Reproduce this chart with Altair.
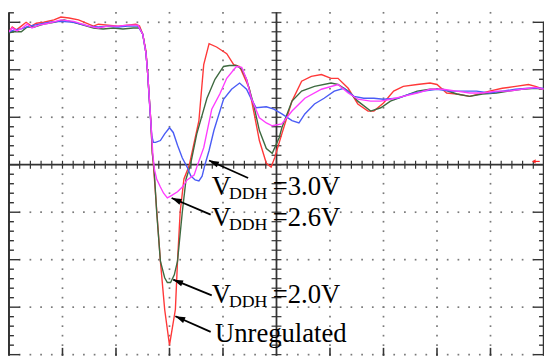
import altair as alt
import pandas as pd
import numpy as np

# ---- data: time and voltage, both in scope divisions ----
red_t = [-5.00,-4.94,-4.86,-4.77,-4.68,-4.58,-4.49,-4.35,-4.16,-4.03,-3.88,-3.70,-3.51,-3.42,-3.33,-3.15,-2.96,-2.78,-2.63,-2.56,
         -2.50,-2.44,-2.41,-2.35,-2.32,-2.30,-2.17,-2.09,-2.00,-1.89,-1.85,-1.80,-1.73,-1.63,-1.45,-1.36,-1.26,-1.12,-0.93,-0.80,
         -0.69,-0.51,-0.32,-0.19,-0.10,-0.03,0.10,0.29,0.47,0.65,0.84,1.02,1.15,1.34,1.52,1.71,1.82,2.00,2.19,2.37,2.63,2.87,3.00,
         3.18,3.37,3.61,3.79,3.98,4.22,4.47,4.71,4.84,4.99]
red_v = [2.80,2.90,2.84,2.92,3.00,2.92,2.98,3.00,3.05,3.11,3.09,3.05,2.96,2.92,2.96,2.94,2.92,2.94,2.96,2.92,
         2.75,2.40,1.96,0.93,0.24,-0.01,-2.03,-3.05,-3.80,-3.05,-2.03,-0.99,-0.30,-0.01,0.93,2.11,2.55,2.48,2.34,2.11,
         2.07,1.61,0.51,0.03,-0.05,0.16,0.65,1.34,1.76,1.86,1.90,1.82,1.82,1.61,1.28,1.13,1.13,1.30,1.55,1.65,1.69,1.72,1.69,
         1.51,1.49,1.44,1.49,1.55,1.61,1.65,1.69,1.65,1.59]

green_t = [-5.00,-4.90,-4.77,-4.66,-4.53,-4.35,-4.16,-3.97,-3.79,-3.61,-3.42,-3.24,-3.05,-2.87,-2.68,-2.56,
           -2.50,-2.44,-2.41,-2.35,-2.32,-2.29,-2.24,-2.17,-2.09,-2.04,-1.98,-1.91,-1.85,-1.76,-1.69,-1.61,-1.49,-1.30,-1.15,
           -0.99,-0.88,-0.75,-0.65,-0.56,-0.43,-0.32,-0.19,-0.08,0.05,0.10,0.29,0.47,0.71,1.02,1.15,1.34,1.52,1.76,1.95,2.13,
           2.37,2.63,2.87,3.11,3.37,3.61,3.85,4.11,4.34,4.58,4.84,4.99]
green_v = [2.78,2.80,2.80,2.90,2.90,2.96,3.00,3.05,3.00,2.94,2.88,2.86,2.88,2.86,2.88,2.88,
           2.75,2.35,1.96,0.93,0.24,-0.05,-0.99,-2.03,-2.38,-2.48,-2.48,-2.32,-2.03,-0.99,-0.30,-0.01,0.65,1.40,1.80,
           2.07,2.09,2.09,2.01,1.80,1.28,0.72,0.34,0.24,0.57,0.78,1.34,1.55,1.65,1.72,1.69,1.55,1.34,1.13,1.20,1.34,
           1.44,1.55,1.59,1.59,1.49,1.44,1.49,1.51,1.55,1.59,1.61,1.59]

mag_t = [-5.00,-4.94,-4.85,-4.75,-4.66,-4.57,-4.44,-4.26,-4.03,-3.79,-3.51,-3.33,-3.15,-2.96,-2.78,-2.59,
         -2.50,-2.44,-2.41,-2.35,-2.31,-2.28,-2.24,-2.17,-2.11,-2.04,-1.98,-1.85,-1.76,-1.67,-1.54,-1.49,-1.36,-1.21,-1.06,
         -0.93,-0.75,-0.65,-0.56,-0.47,-0.32,-0.19,-0.08,0.10,0.29,0.53,0.84,1.15,1.34,1.52,1.76,1.95,2.13,2.37,2.63,2.87,
         3.11,3.37,3.61,3.85,4.11,4.34,4.58,4.84,4.99]
mag_v = [2.80,2.88,2.82,2.88,2.96,2.88,2.94,2.98,3.05,3.02,2.92,2.88,2.92,2.92,2.94,2.94,
         2.75,2.35,1.96,0.93,0.20,-0.11,-0.30,-0.47,-0.60,-0.70,-0.66,-0.57,-0.47,-0.32,-0.22,-0.05,0.36,1.17,1.49,
         1.82,2.07,2.05,1.80,1.40,0.99,0.88,0.82,0.86,1.13,1.40,1.59,1.69,1.51,1.38,1.34,1.34,1.38,1.44,1.51,1.59,
         1.59,1.55,1.51,1.51,1.55,1.55,1.59,1.63,1.59]

blue_t = [-5.00,-4.90,-4.77,-4.62,-4.43,-4.24,-4.03,-3.79,-3.51,-3.33,-3.15,-2.96,-2.78,-2.59,
          -2.50,-2.44,-2.41,-2.36,-2.33,-2.30,-2.26,-2.17,-2.09,-2.00,-1.93,-1.85,-1.76,-1.67,-1.60,-1.52,-1.45,-1.39,-1.34,
          -1.26,-1.17,-0.99,-0.84,-0.69,-0.56,-0.47,-0.38,-0.19,-0.05,0.10,0.29,0.42,0.53,0.71,0.89,1.08,1.26,1.45,1.63,
          1.82,2.00,2.26,2.50,2.74,3.00,3.24,3.48,3.74,3.98,4.22,4.47,4.71,4.99]
blue_v = [2.80,2.84,2.86,2.92,2.96,3.00,3.02,3.00,2.92,2.90,2.92,2.90,2.92,2.92,
          2.75,2.35,1.96,1.05,0.60,0.47,0.47,0.51,0.65,0.78,0.68,0.41,0.14,-0.05,-0.24,-0.32,-0.34,-0.24,-0.01,
          0.30,0.72,1.38,1.59,1.72,1.59,1.38,1.20,1.22,1.17,1.07,0.93,0.88,1.07,1.28,1.40,1.55,1.61,1.44,1.40,
          1.40,1.38,1.40,1.49,1.55,1.59,1.55,1.55,1.55,1.51,1.55,1.59,1.61,1.61]

series_names = ["Unregulated", "VDDH = 2.0V", "VDDH = 3.0V", "VDDH = 2.6V"]
series_colors = ["#FF3838", "#3E6A40", "#4A5CF5", "#FF3CFF"]
series_t = [red_t, green_t, blue_t, mag_t]
series_v = [red_v, green_v, blue_v, mag_v]

# annotation arrows: tail and tip (divisions)
arrow_tail_x = [-0.53, -1.23, -1.21, -1.23]
arrow_tail_y = [-0.28, -1.05, -2.75, -3.52]
arrow_tip_x = [-1.26, -1.96, -1.93, -1.89]
arrow_tip_y = [0.09, -0.70, -2.42, -3.19]

# label pieces: text, x, y (baseline), font size
label_text = ["V", "DDH", "=3.0V",
              "V", "DDH", "=2.6V",
              "V", "DDH", "=2.0V",
              "Unregulated"]
label_x = [-1.21, -0.89, -0.07,
           -1.21, -0.89, -0.07,
           -1.21, -0.89, -0.07,
           -1.15]
label_y = [-0.63, -0.72, -0.63,
           -1.30, -1.38, -1.30,
           -2.92, -3.00, -2.92,
           -3.73]
label_size = [27, 18, 27, 27, 18, 27, 27, 18, 27, 27]

# ---- geometry ----
W, H = 542, 348
XMIN, XMAX = -5.0, 5.0
YMIN, YMAX = -4.023, 3.212
PXX = W / (XMAX - XMIN)
PXY = H / (YMAX - YMIN)

xs = alt.Scale(domain=[XMIN, XMAX], nice=False, zero=False)
ys = alt.Scale(domain=[YMIN, YMAX], nice=False, zero=False)

# grid dots
gx_lines = [-4, -3, -2, -1, 1, 2, 3, 4]
gy_lines = [-4, -3, -2, -1, 1, 2, 3]
minor_y = np.round(np.arange(-4.0, 3.21, 0.2), 3)
minor_x = np.round(np.arange(-5.0, 5.001, 0.2), 3)
dots = [{"x": gx, "y": y} for gx in gx_lines for y in minor_y] + \
       [{"x": x, "y": gy} for gy in gy_lines for x in minor_x]
dots_df = pd.DataFrame(dots)

# rules: axis lines and ticks
rules = []
axc = "#333333"
rules.append(dict(x=XMIN, x2=XMIN, y=YMIN, y2=YMAX, w=2.0))
rules.append(dict(x=XMAX - 0.5 / PXX, x2=XMAX - 0.5 / PXX, y=YMIN, y2=3.0, w=1.5))
rules.append(dict(x=XMIN, x2=XMAX, y=0, y2=0, w=1.8))
rules.append(dict(x=0, x2=0, y=YMIN, y2=YMAX, w=1.8))
for y in minor_y:
    major = abs(y - round(y)) < 1e-6
    L = 11 if major else 5
    rules.append(dict(x=XMIN, x2=XMIN + L / PXX, y=y, y2=y, w=1.4))
    if y <= 3.0:
        rules.append(dict(x=XMAX, x2=XMAX - L / PXX, y=y, y2=y, w=1.4))
    rules.append(dict(x=-5 / PXX, x2=5 / PXX, y=y, y2=y, w=1.2))
for x in minor_x:
    rules.append(dict(x=x, x2=x, y=-4 / PXY, y2=4 / PXY, w=1.2))
for gx in gx_lines:
    rules.append(dict(x=gx, x2=gx, y=YMIN, y2=YMIN + 8 / PXY, w=1.6))
rules_df = pd.DataFrame(rules)

grid_layer = alt.Chart(dots_df).mark_square(size=3, color="#7a7a7a", opacity=1).encode(
    x=alt.X("x:Q", scale=xs, axis=None), y=alt.Y("y:Q", scale=ys, axis=None))

rule_layer = alt.Chart(rules_df).mark_rule(color=axc).encode(
    x=alt.X("x:Q", scale=xs, axis=None), x2="x2:Q",
    y=alt.Y("y:Q", scale=ys, axis=None), y2="y2:Q",
    strokeWidth=alt.StrokeWidth("w:Q", scale=None))

trace_layers = []
for name, col, t, v in zip(series_names, series_colors, series_t, series_v):
    df = pd.DataFrame({"t": t, "v": v, "i": range(len(t))})
    trace_layers.append(
        alt.Chart(df).mark_line(color=col, strokeWidth=1.4, clip=True).encode(
            x=alt.X("t:Q", scale=xs, axis=None), y=alt.Y("v:Q", scale=ys, axis=None),
            order="i:Q"))

# arrows
adf = pd.DataFrame({"x": arrow_tail_x, "y": arrow_tail_y, "x2": arrow_tip_x, "y2": arrow_tip_y})
adf["ang"] = [(np.degrees(np.arctan2((x2 - x) * PXX, (y2 - y) * PXY)) + 360) % 360
              for x, y, x2, y2 in zip(adf.x, adf.y, adf.x2, adf.y2)]
arrow_lines = alt.Chart(adf).mark_rule(color="black", strokeWidth=1.8).encode(
    x=alt.X("x:Q", scale=xs, axis=None), x2="x2:Q",
    y=alt.Y("y:Q", scale=ys, axis=None), y2="y2:Q")
arrow_heads = alt.Chart(adf).mark_point(
    shape="M0,0 L0.6,1.9 L-0.6,1.9 Z", filled=True, color="black", opacity=1, size=110).encode(
    x=alt.X("x2:Q", scale=xs, axis=None), y=alt.Y("y2:Q", scale=ys, axis=None),
    angle=alt.Angle("ang:Q", scale=None))

# small red marker on the right edge
mdf = pd.DataFrame({"x": [4.81], "y": [0.07], "x2": [4.92]})
marker_line = alt.Chart(mdf).mark_rule(color="#FF2020", strokeWidth=1.2).encode(
    x=alt.X("x:Q", scale=xs, axis=None), x2="x2:Q", y=alt.Y("y:Q", scale=ys, axis=None))
marker_head = alt.Chart(mdf).mark_point(shape="triangle-left", filled=True, color="#FF2020",
                                        opacity=1, size=18).encode(
    x=alt.X("x:Q", scale=xs, axis=None), y=alt.Y("y:Q", scale=ys, axis=None))

ldf = pd.DataFrame({"text": label_text, "x": label_x, "y": label_y, "fs": label_size})
labels = alt.Chart(ldf).mark_text(align="left", baseline="alphabetic", font="Liberation Serif",
                                  color="black").encode(
    x=alt.X("x:Q", scale=xs, axis=None), y=alt.Y("y:Q", scale=ys, axis=None),
    text="text:N", size=alt.Size("fs:Q", scale=None))

chart = alt.layer(grid_layer, rule_layer, *trace_layers, arrow_lines, arrow_heads,
                  marker_line, marker_head, labels).properties(
    width=W, height=H,
    autosize=alt.AutoSizeParams(type="none"),
    padding={"left": 1, "top": 2, "right": 0, "bottom": 0},
    background="white",
).configure_view(stroke=None)

chart.save("out.html", embed_options={"renderer": "svg", "actions": False})
